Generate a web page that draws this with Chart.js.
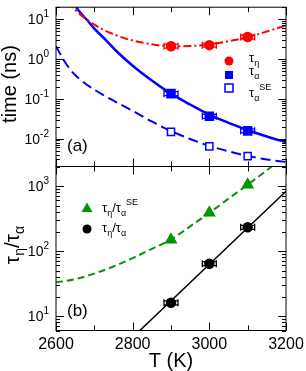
<!DOCTYPE html>
<html>
<head>
<meta charset="utf-8">
<script src="https://cdn.jsdelivr.net/npm/chart.js@4"></script>
<style>
  body { margin: 0; background: #fff; }
  #wrap { position: relative; width: 306px; height: 371px; }
  canvas { position: absolute; left: 0; top: 0; }
</style>
</head>
<body>
<div id="wrap">
  <canvas id="topChart" width="306" height="371"></canvas>
  <canvas id="bottomChart" width="306" height="371"></canvas>
</div>
<script>
// temperatures of the simulated points (K)
var temps = [2900, 3000, 3100];

// panel (a): times in ns
var tauEta = [2.1, 2.23, 3.57];
var tauAlpha = [0.135, 0.0364, 0.0157];
var tauAlphaSE = [0.0148, 0.0064, 0.00364];

// panel (a): fitted curves
var etaFitT = [2630, 2645, 2660, 2680, 2700, 2720, 2750, 2780, 2820, 2860, 2900, 2950, 3000, 3050, 3100, 3150, 3200];
var etaFit = [27, 19, 14, 9.8, 7.3, 5.6, 4.2, 3.3, 2.65, 2.25, 2.1, 2.12, 2.3, 2.8, 3.55, 4.9, 7.0];
var alphaFitT = [2650, 2660, 2680, 2700, 2730, 2760, 2800, 2850, 2900, 2950, 3000, 3050, 3100, 3150, 3200];
var alphaFit = [22, 16, 9.8, 5.8, 3.0, 1.5, 0.68, 0.29, 0.135, 0.072, 0.04, 0.025, 0.0165, 0.0113, 0.0081];
var alphaSEFitT = [2600, 2620, 2640, 2670, 2700, 2750, 2800, 2850, 2900, 2950, 3000, 3050, 3100, 3150, 3200];
var alphaSEFit = [2.1, 0.95, 0.5, 0.27, 0.17, 0.09, 0.05, 0.027, 0.0155, 0.0098, 0.0066, 0.0048, 0.0037, 0.003, 0.0026];

// panel (b): ratios
var ratioSE = [150, 387, 1050];
var ratio = [16, 64, 232];
var ratioSEFitT = [2600, 2650, 2700, 2750, 2800, 2850, 2900, 2950, 3000, 3050, 3100, 3150, 3200];
var ratioSEFit = [33, 37, 45, 58, 78, 108, 150, 240, 387, 640, 1050, 1750, 3000];
var ratioFitT = [2800, 3200];
var ratioFit = [4.7, 830];

// tick labels
var xTickLabels = [2600, 2800, 3000, 3200];
var topDecades = [1, 0, -1, -2];
var bottomDecades = [3, 2, 1];

var FONT = '"Liberation Sans", Arial, sans-serif';
var GREEN = 'rgb(0,150,0)';

function pts(xs, ys) {
    return xs.map(function (x, i) { return { x: x, y: ys[i] }; });
}

function curve(xs, ys, color, width, dash) {
    return {
        data: pts(xs, ys), borderColor: color, borderWidth: width, borderDash: dash,
        pointRadius: 0, cubicInterpolationMode: 'monotone', fill: false, order: 2
    };
}

function marker(ys, style, radius, color, fillColor, err) {
    return {
        data: pts(temps, ys), showLine: false, pointStyle: style, pointRadius: radius,
        borderColor: color, backgroundColor: fillColor, pointBorderWidth: 1.5,
        errBar: err, order: 1
    };
}

// draw text made of pieces with different sizes / baseline offsets
function drawParts(ctx, parts, x, y, align) {
    var total = 0;
    parts.forEach(function (p) {
        ctx.font = p.size + 'px ' + FONT;
        p.w = ctx.measureText(p.text).width;
        total += p.w + (p.gap || 0);
    });
    var cx = x;
    if (align === 'center') cx = x - total / 2;
    if (align === 'right') cx = x - total;
    ctx.textAlign = 'left';
    ctx.textBaseline = 'alphabetic';
    parts.forEach(function (p) {
        ctx.font = p.size + 'px ' + FONT;
        ctx.fillText(p.text, cx, y + (p.dy || 0));
        cx += p.w + (p.gap || 0);
    });
}

function drawMarker(ctx, style, x, y, color, filled) {
    ctx.save();
    ctx.fillStyle = color;
    ctx.strokeStyle = color;
    ctx.lineWidth = 1.5;
    ctx.beginPath();
    if (style === 'circle') ctx.arc(x, y, 4.5, 0, Math.PI * 2);
    if (style === 'rect') ctx.rect(x - 4, y - 4, 8, 8);
    if (style === 'triangle') { ctx.moveTo(x, y - 5.5); ctx.lineTo(x + 5.5, y + 4); ctx.lineTo(x - 5.5, y + 4); ctx.closePath(); }
    if (filled) ctx.fill(); else ctx.stroke();
    ctx.restore();
}

var decor = {
    id: 'decor',
    beforeDatasetsDraw: function (chart) {
        var ctx = chart.ctx;
        chart.data.datasets.forEach(function (ds, i) {
            if (!ds.errBar) return;
            ctx.save();
            ctx.strokeStyle = ds.borderColor;
            ctx.lineWidth = 1.3;
            chart.getDatasetMeta(i).data.forEach(function (p) {
                ctx.beginPath();
                ctx.moveTo(p.x - 7, p.y - 2); ctx.lineTo(p.x + 7, p.y - 2);
                ctx.moveTo(p.x - 7, p.y + 2); ctx.lineTo(p.x + 7, p.y + 2);
                ctx.moveTo(p.x - 7, p.y - 3.5); ctx.lineTo(p.x - 7, p.y + 3.5);
                ctx.moveTo(p.x + 7, p.y - 3.5); ctx.lineTo(p.x + 7, p.y + 3.5);
                ctx.stroke();
            });
            ctx.restore();
        });
    },
    afterDraw: function (chart, args, opts) {
        var ctx = chart.ctx;
        var a = chart.chartArea;
        var xs = chart.scales.x, ys = chart.scales.y;
        ctx.save();
        ctx.strokeStyle = '#000';
        ctx.fillStyle = '#000';
        ctx.lineWidth = 1;
        ctx.strokeRect(a.left, a.top, a.right - a.left, a.bottom - a.top);

        // y ticks on both sides
        ctx.beginPath();
        for (var d = -4; d <= 4; d++) {
            for (var m = 1; m <= 9; m++) {
                var v = m * Math.pow(10, d);
                if (v < ys.min || v > ys.max) continue;
                var py = Math.round(ys.getPixelForValue(v)) + 0.5;
                var len = m === 1 ? 8 : 4;
                ctx.moveTo(a.left, py); ctx.lineTo(a.left + len, py);
                ctx.moveTo(a.right, py); ctx.lineTo(a.right - len, py);
            }
        }
        // x ticks on top and bottom
        for (var t = 2600; t <= 3200; t += 100) {
            var px = Math.round(xs.getPixelForValue(t)) + 0.5;
            var l = t % 200 === 0 ? 8 : 5;
            ctx.moveTo(px, a.bottom); ctx.lineTo(px, a.bottom - l);
            ctx.moveTo(px, a.top); ctx.lineTo(px, a.top + l);
        }
        ctx.stroke();

        var decades = opts.panel === 'a' ? topDecades : bottomDecades;
        decades.forEach(function (e) {
            var py = ys.getPixelForValue(Math.pow(10, e));
            drawParts(ctx, [
                { text: '10', size: 14 },
                { text: String(e), size: 10, dy: -7, gap: 0 }
            ], a.left - 7, py + 5, 'right');
        });

        if (opts.panel === 'a') {
            // y title
            ctx.save();
            ctx.translate(16, 84);
            ctx.rotate(-Math.PI / 2);
            drawParts(ctx, [{ text: 'time (ns)', size: 20 }], 0, 0, 'center');
            ctx.restore();
            drawParts(ctx, [{ text: '(a)', size: 17 }], 67, 151, 'left');
            // legend
            drawMarker(ctx, 'circle', 229, 61, 'red', true);
            drawMarker(ctx, 'rect', 229, 75, 'blue', true);
            drawMarker(ctx, 'rect', 229, 88, 'blue', false);
            drawParts(ctx, [{ text: 'τ', size: 13 }, { text: 'η', size: 9, dy: 4 }], 249, 62, 'left');
            drawParts(ctx, [{ text: 'τ', size: 13 }, { text: 'α', size: 9, dy: 4 }], 249, 75, 'left');
            drawParts(ctx, [{ text: 'τ', size: 13 }, { text: 'α', size: 9, dy: 4 }, { text: 'SE', size: 9, dy: -7, gap: 0 }], 249, 97, 'left');
        } else {
            ctx.save();
            ctx.translate(19, 245);
            ctx.rotate(-Math.PI / 2);
            drawParts(ctx, [
                { text: 'τ', size: 21 }, { text: 'η', size: 14, dy: 5 },
                { text: '/', size: 21 },
                { text: 'τ', size: 21 }, { text: 'α', size: 14, dy: 5 }
            ], 0, 0, 'center');
            ctx.restore();
            drawParts(ctx, [{ text: '(b)', size: 17 }], 67, 316, 'left');
            xTickLabels.forEach(function (t) {
                drawParts(ctx, [{ text: String(t), size: 16 }], xs.getPixelForValue(t), 349, 'center');
            });
            drawParts(ctx, [{ text: 'T (K)', size: 20 }], 171, 367, 'center');
            drawMarker(ctx, 'triangle', 87, 208, GREEN, true);
            drawMarker(ctx, 'circle', 87, 229, '#000', true);
            drawParts(ctx, [
                { text: 'τ', size: 13 }, { text: 'η', size: 9, dy: 4 }, { text: '/', size: 13 },
                { text: 'τ', size: 13 }, { text: 'α', size: 9, dy: 4 }, { text: 'SE', size: 9, dy: -7 }
            ], 102, 212, 'left');
            drawParts(ctx, [
                { text: 'τ', size: 13 }, { text: 'η', size: 9, dy: 4 }, { text: '/', size: 13 },
                { text: 'τ', size: 13 }, { text: 'α', size: 9, dy: 4 }
            ], 102, 232, 'left');
        }
        ctx.restore();
    }
};

function makeChart(id, datasets, yMin, yMax, padding, panel) {
    return new Chart(document.getElementById(id), {
        type: 'line',
        data: { datasets: datasets },
        options: {
            responsive: false,
            animation: false,
            layout: { padding: padding },
            scales: {
                x: { type: 'linear', min: 2600, max: 3200, display: false },
                y: { type: 'logarithmic', min: yMin, max: yMax, display: false }
            },
            plugins: { legend: { display: false }, tooltip: { enabled: false }, decor: { panel: panel } }
        },
        plugins: [decor]
    });
}

var topChart = makeChart('topChart', [
    marker(tauEta, 'circle', 4.5, 'red', 'red', true),
    marker(tauAlpha, 'rect', 5.7, 'blue', 'blue', true),
    marker(tauAlphaSE, 'rect', 5, 'blue', 'white', false),
    curve(etaFitT, etaFit, 'red', 2, [8, 3, 2, 3]),
    curve(alphaFitT, alphaFit, 'blue', 2.5, []),
    curve(alphaSEFitT, alphaSEFit, 'blue', 2, [10, 5])
], 0.002, 20, { left: 56, right: 20, top: 2.5, bottom: 204.5 }, 'a');

var bottomChart = makeChart('bottomChart', [
    marker(ratioSE, 'triangle', 6, GREEN, GREEN, false),
    marker(ratio, 'circle', 4.5, '#000', '#000', true),
    curve(ratioSEFitT, ratioSEFit, GREEN, 2, [7, 4]),
    curve(ratioFitT, ratioFit, '#000', 1.5, [])
], 6, 2000, { left: 56, right: 20, top: 166.5, bottom: 40.5 }, 'b');
</script>
</body>
</html>
